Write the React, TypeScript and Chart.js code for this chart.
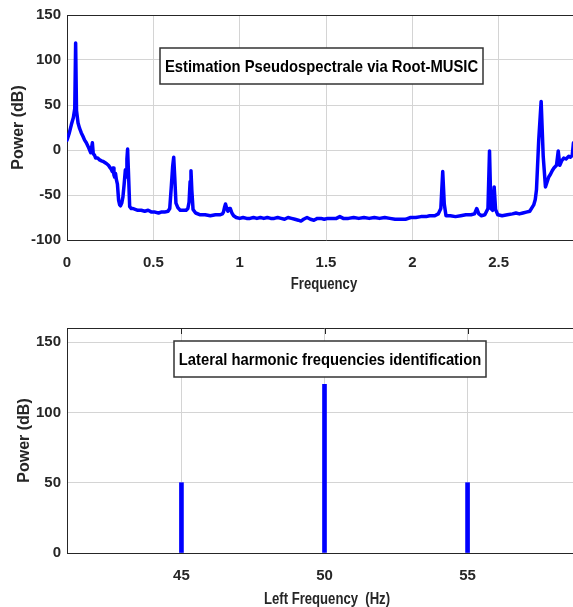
import React, { useEffect, useRef } from 'react';
import { Chart, registerables } from 'chart.js';

Chart.register(...registerables);

// ---------- Data ----------
const spectrumFreq = [
  0.000, 0.012, 0.025, 0.037, 0.045, 0.050, 0.055, 0.064, 0.073, 0.083, 0.093, 0.102,
  0.112, 0.122, 0.131, 0.137, 0.142, 0.147, 0.152, 0.160, 0.166, 0.178, 0.189, 0.200,
  0.212, 0.228, 0.240, 0.247, 0.255, 0.262, 0.267, 0.272, 0.276, 0.281, 0.286, 0.292,
  0.299, 0.305, 0.310, 0.317, 0.324, 0.331, 0.338, 0.343, 0.347, 0.351, 0.356, 0.363,
  0.372, 0.382, 0.395, 0.410, 0.430, 0.450, 0.470, 0.490, 0.510, 0.530,
  0.545, 0.565, 0.585, 0.595, 0.604, 0.612, 0.618, 0.624, 0.631, 0.642, 0.656, 0.675,
  0.690, 0.700, 0.707, 0.713, 0.718, 0.723, 0.730, 0.745, 0.772, 0.800, 0.830, 0.860,
  0.885, 0.900, 0.906, 0.912, 0.918, 0.925, 0.932, 0.940, 0.946, 0.955, 0.965, 0.980,
  1.000, 1.020, 1.040, 1.060, 1.080, 1.100, 1.120, 1.140, 1.160, 1.180, 1.200, 1.220,
  1.240, 1.260, 1.280, 1.300, 1.320, 1.340, 1.355, 1.370, 1.390, 1.410, 1.430, 1.450,
  1.470, 1.490, 1.510, 1.530, 1.560, 1.580, 1.600, 1.630, 1.660, 1.690, 1.720, 1.750,
  1.780, 1.810, 1.840, 1.870, 1.900, 1.930, 1.960, 1.990, 2.020, 2.050, 2.080, 2.100,
  2.130, 2.150, 2.165, 2.176, 2.185, 2.195, 2.220, 2.250, 2.280, 2.310, 2.340, 2.360,
  2.373, 2.385, 2.400, 2.420, 2.438, 2.447, 2.455, 2.465, 2.474, 2.482, 2.495, 2.520,
  2.550, 2.580, 2.600, 2.620, 2.640, 2.660, 2.680, 2.703, 2.712, 2.719, 2.732, 2.746,
  2.758, 2.771, 2.790, 2.800, 2.810, 2.820, 2.835, 2.845, 2.854, 2.865, 2.877, 2.890,
  2.906, 2.915, 2.926, 2.933, 2.945, 2.970,
];
const spectrumPower = [
  11, 18, 28, 36, 46, 119, 44, 30, 24, 19, 15, 11,
  8, 4, 0, -3, 2, 8, -4, -6, -9, -9, -11, -12,
  -13, -15, -17, -19, -21, -24, -20, -28, -30, -26, -33, -38,
  -56, -61, -62, -59, -52, -38, -22, -30, -10, 1, -25, -63,
  -65, -65, -66, -67, -67, -68, -67, -69, -69, -70,
  -69, -69, -68, -65, -41, -18, -8, -30, -59, -64, -67, -67,
  -67, -65, -58, -35, -23, -45, -66, -70, -72, -72, -73, -72,
  -72, -71, -69, -64, -60, -65, -68, -65, -65, -70, -73, -75,
  -76, -75, -76, -76, -75, -76, -75, -76, -75, -76, -76, -75,
  -76, -77, -75, -76, -77, -78, -79, -77, -75, -77, -78, -76,
  -76, -77, -76, -76, -76, -74, -76, -76, -75, -76, -75, -76,
  -75, -76, -75, -76, -77, -77, -77, -75, -75, -74, -74, -73,
  -73, -71, -65, -24, -60, -73, -73, -74, -73, -72, -72, -71,
  -65, -71, -73, -72, -65, -1, -65, -67, -41, -66, -72, -73,
  -72, -71, -70, -71, -70, -69, -68, -61, -55, -44, 11, 54,
  -7, -41, -30, -27, -23, -20, -17, -1, -17, -12, -9, -10,
  -7, -8, -6, 8, -7, -6,
];
const topXTicks = [0, 0.5, 1, 1.5, 2, 2.5];
const topYTicks = [-100, -50, 0, 50, 100, 150];

const harmonicFreq = [45, 50, 55];
const harmonicPower = [50, 120, 50];
const bottomXTicks = [45, 50, 55];
const bottomYTicks = [0, 50, 100, 150];

const topTitle = 'Estimation Pseudospectrale via Root-MUSIC';
const bottomTitle = 'Lateral harmonic frequencies identification';
const topXLabel = 'Frequency';
const bottomXLabel = 'Left Frequency  (Hz)';
const yLabel = 'Power (dB)';

// ---------- Styling ----------
const BLUE = '#0000ff';
const GRID = '#d4d4d4';
const AXIS = '#262626';
const REG = "'Liberation Sans', Arial, sans-serif";

function drawSquished(ctx: CanvasRenderingContext2D, text: string, cx: number, cy: number, size: number, sx: number) {
  ctx.save();
  ctx.translate(cx, cy);
  ctx.scale(sx, 1);
  ctx.font = `bold ${size}px ${REG}`;
  ctx.textAlign = 'center';
  ctx.textBaseline = 'middle';
  ctx.fillText(text, 0, 0);
  ctx.restore();
}

const framePlugin = {
  id: 'matlabFrame',
  afterDraw(chart: any, _args: any, opts: any) {
    const { ctx, chartArea } = chart;
    const xs = chart.scales.x;
    ctx.save();
    ctx.strokeStyle = AXIS;
    ctx.lineWidth = 1;
    ctx.beginPath();
    ctx.moveTo(chartArea.left, chartArea.top + 0.5);
    ctx.lineTo(chartArea.right, chartArea.top + 0.5);
    ctx.stroke();
    if (opts.topTicks) {
      xs.ticks.forEach((t: any) => {
        const px = Math.round(xs.getPixelForValue(t.value)) + 0.5;
        ctx.beginPath();
        ctx.moveTo(px, chartArea.top);
        ctx.lineTo(px, chartArea.top + 6);
        ctx.stroke();
      });
    }
    // x axis title
    ctx.fillStyle = AXIS;
    drawSquished(ctx, opts.xLabel, opts.xLabelX, opts.xLabelY, 16, 0.82);
    // title box
    const { left, top, width, height } = opts.box;
    ctx.fillStyle = '#ffffff';
    ctx.fillRect(left, top, width, height);
    ctx.strokeStyle = '#333333';
    ctx.lineWidth = 1.5;
    ctx.strokeRect(left, top, width, height);
    ctx.fillStyle = '#000000';
    drawSquished(ctx, opts.text, left + width / 2, top + height / 2 + 1, 17, 0.87);
    ctx.restore();
  },
};

function tickFont() {
  return { family: REG, size: 15, weight: 'bold' as const };
}
function titleFont() {
  return { family: REG, size: 16, weight: 'bold' as const };
}

export default function App() {
  const topRef = useRef<HTMLCanvasElement>(null);
  const botRef = useRef<HTMLCanvasElement>(null);

  useEffect(() => {
    document.body.style.margin = '0';
    document.body.style.overflow = 'hidden';

    const top = new Chart(topRef.current as HTMLCanvasElement, {
      type: 'line',
      data: {
        datasets: [
          {
            data: spectrumFreq.map((f, i) => ({ x: f, y: spectrumPower[i] })),
            borderColor: BLUE,
            borderWidth: 3.5,
            borderJoinStyle: 'round',
            borderCapStyle: 'round',
            pointRadius: 0,
            tension: 0,
            fill: false,
          },
        ],
      },
      options: {
        animation: false,
        responsive: false,
        layout: { padding: { top: 15, left: 0, right: 0, bottom: 0 } },
        plugins: {
          legend: { display: false },
          tooltip: { enabled: false },
          matlabFrame: {
            text: topTitle,
            box: { left: 160, top: 48, width: 323, height: 36 },
            xLabel: topXLabel, xLabelX: 324, xLabelY: 285,
            topTicks: false,
          },
        } as any,
        scales: {
          x: {
            type: 'linear',
            min: 0,
            max: 3,
            afterBuildTicks: (s: any) => { s.ticks = topXTicks.map((v) => ({ value: v })); },
            afterFit: (s: any) => { s.height = 60; },
            grid: { color: GRID, drawTicks: false },
            border: { display: true, color: AXIS, width: 1 },
            ticks: { font: tickFont(), color: AXIS, padding: 14, maxRotation: 0, callback: (v: any) => String(v) },
          },
          y: {
            type: 'linear',
            min: -100,
            max: 150,
            afterBuildTicks: (s: any) => { s.ticks = topYTicks.map((v) => ({ value: v })); },
            afterFit: (s: any) => { s.width = 67; },
            grid: { color: GRID, drawTicks: false },
            border: { display: true, color: AXIS, width: 1 },
            ticks: { font: tickFont(), color: AXIS, padding: 6, callback: (v: any) => String(v) },
            title: { display: true, text: yLabel, font: titleFont(), color: AXIS, padding: { top: 9, bottom: 0 } },
          },
        },
      },
      plugins: [framePlugin],
    } as any);

    const bot = new Chart(botRef.current as HTMLCanvasElement, {
      type: 'bar',
      data: {
        datasets: [
          {
            data: harmonicFreq.map((f, i) => ({ x: f, y: harmonicPower[i] })),
            backgroundColor: BLUE,
            borderWidth: 0,
            barThickness: 4,
          },
        ],
      },
      options: {
        animation: false,
        responsive: false,
        layout: { padding: { top: 28, left: 0, right: 0, bottom: 0 } },
        plugins: {
          legend: { display: false },
          tooltip: { enabled: false },
          matlabFrame: {
            text: bottomTitle,
            box: { left: 174, top: 41, width: 312, height: 36 },
            xLabel: bottomXLabel, xLabelX: 327, xLabelY: 300,
            topTicks: true,
          },
        } as any,
        scales: {
          x: {
            type: 'linear',
            min: 41,
            max: 59,
            offset: false,
            afterBuildTicks: (s: any) => { s.ticks = bottomXTicks.map((v) => ({ value: v })); },
            afterFit: (s: any) => { s.height = 67; },
            grid: { color: GRID, drawTicks: false, offset: false },
            border: { display: true, color: AXIS, width: 1 },
            ticks: { font: tickFont(), color: AXIS, padding: 14, maxRotation: 0 },
          },
          y: {
            type: 'linear',
            min: 0,
            max: 160,
            afterBuildTicks: (s: any) => { s.ticks = bottomYTicks.map((v) => ({ value: v })); },
            afterFit: (s: any) => { s.width = 67; },
            grid: { color: GRID, drawTicks: false },
            border: { display: true, color: AXIS, width: 1 },
            ticks: { font: tickFont(), color: AXIS, padding: 6 },
            title: { display: true, text: yLabel, font: titleFont(), color: AXIS, padding: { top: 15, bottom: 0 } },
          },
        },
      },
      plugins: [framePlugin],
    } as any);

    return () => {
      top.destroy();
      bot.destroy();
    };
  }, []);

  return (
    <div style={{ position: 'absolute', left: 0, top: 0, width: 573, height: 607, overflow: 'hidden', background: '#fff' }}>
      <canvas ref={topRef} width={585} height={300} style={{ position: 'absolute', left: 0, top: 0, width: 585, height: 300 }} />
      <canvas ref={botRef} width={582} height={320} style={{ position: 'absolute', left: 0, top: 300, width: 582, height: 320 }} />
    </div>
  );
}
